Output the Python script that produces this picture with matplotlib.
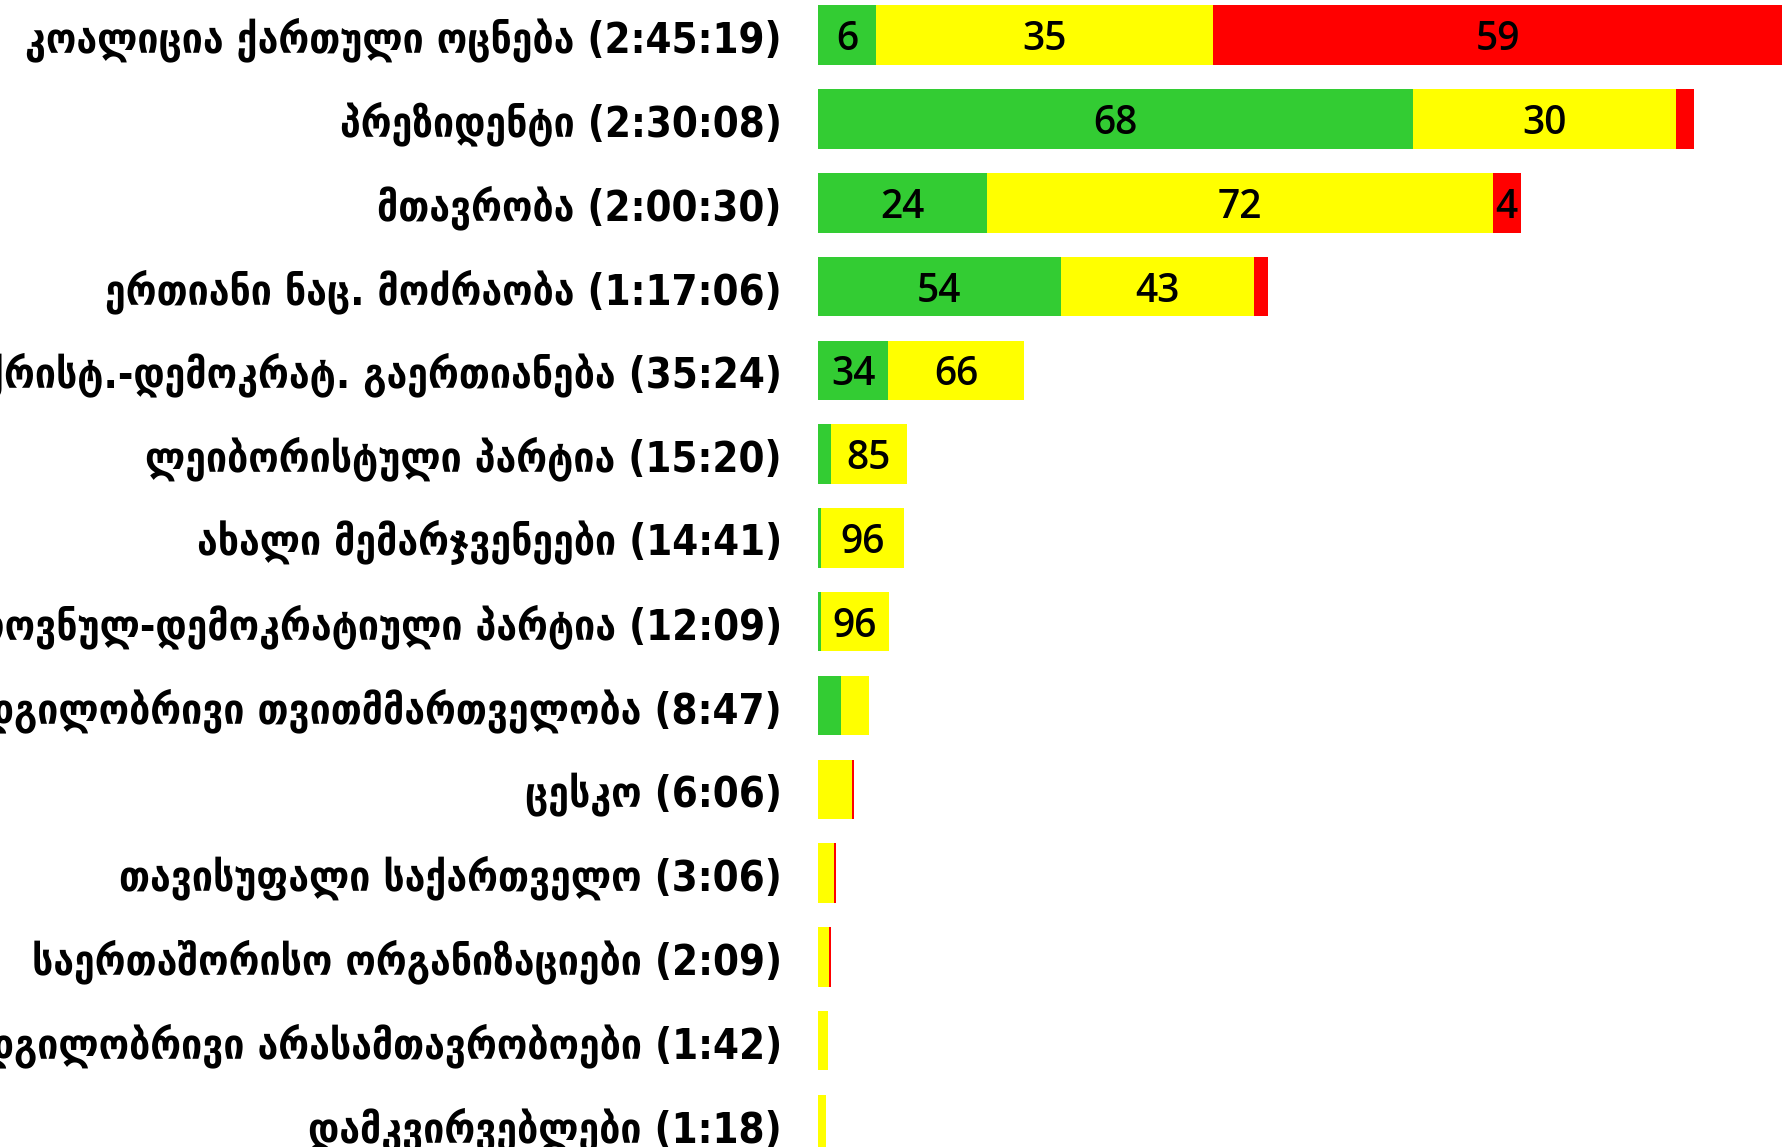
import numpy as np
import matplotlib
matplotlib.use('Agg')
import matplotlib.pyplot as plt

# speakers and their total speaking time
names = ['კოალიცია ქართული ოცნება', 'პრეზიდენტი', 'მთავრობა',
         'ერთიანი ნაც. მოძრაობა', 'ქრისტ.-დემოკრატ. გაერთიანება',
         'ლეიბორისტული პარტია', 'ახალი მემარჯვენეები',
         'ეროვნულ-დემოკრატიული პარტია', 'ადგილობრივი თვითმმართველობა',
         'ცესკო', 'თავისუფალი საქართველო', 'საერთაშორისო ორგანიზაციები',
         'ადგილობრივი არასამთავრობოები', 'დამკვირვებლები']
durations = ['2:45:19', '2:30:08', '2:00:30', '1:17:06', '35:24', '15:20',
             '14:41', '12:09', '8:47', '6:06', '3:06', '2:09', '1:42', '1:18']

# share of time (%) by tone: positive / neutral / negative
green = [6, 68, 24, 54, 34, 14, 4, 4, 44, 0, 0, 0, 0, 0]
yellow = [35, 30, 72, 43, 66, 85, 96, 96, 56, 96, 91, 85, 100, 100]
red = [59, 2, 4, 3, 0, 1, 0, 0, 0, 4, 9, 15, 0, 0]

# labels printed inside the bars
green_lbl = ['6', '68', '24', '54', '34', '', '', '', '', '', '', '', '', '']
yellow_lbl = ['35', '30', '72', '43', '66', '85', '96', '96', '', '', '', '', '', '']
red_lbl = ['59', '', '4', '', '', '', '', '', '', '', '', '', '', '']


def to_sec(s):
    parts = [int(p) for p in s.split(':')]
    sec = 0
    for p in parts:
        sec = sec * 60 + p
    return sec


total = np.array([to_sec(d) for d in durations], dtype=float)
g = total * np.array(green) / 100
yl = total * np.array(yellow) / 100
r = total * np.array(red) / 100
y = np.arange(len(names))

fig = plt.figure(figsize=(17.88, 11.47), dpi=100)
ax = fig.add_axes([0.4575, 0, 0.5425, 1])

bh = 0.71
b1 = ax.barh(y, g, height=bh, color='#33CC33')
b2 = ax.barh(y, yl, left=g, height=bh, color='#FFFF00')
b3 = ax.barh(y, r, left=g + yl, height=bh, color='#FF0000')

for bars, lbls in [(b1, green_lbl), (b2, yellow_lbl), (b3, red_lbl)]:
    txts = ax.bar_label(bars, labels=lbls, label_type='center', fontsize=28,
                        family='Open Sans', fontweight='semibold', color='black')
    for t in txts:
        t.set_va('center_baseline')

ax.set_xlim(0, 9980)
ax.set_ylim(13.27, -0.42)
ax.set_yticks(y)
ax.set_yticklabels([n + ' (' + d + ')' for n, d in zip(names, durations)],
                   fontsize=30, fontweight='bold', fontstretch='condensed',
                   family='DejaVu Sans')
ax.tick_params(axis='y', length=0, pad=26)
ax.set_xticks([])
for s in ax.spines.values():
    s.set_visible(False)

fig.savefig('out.png', dpi=100)
